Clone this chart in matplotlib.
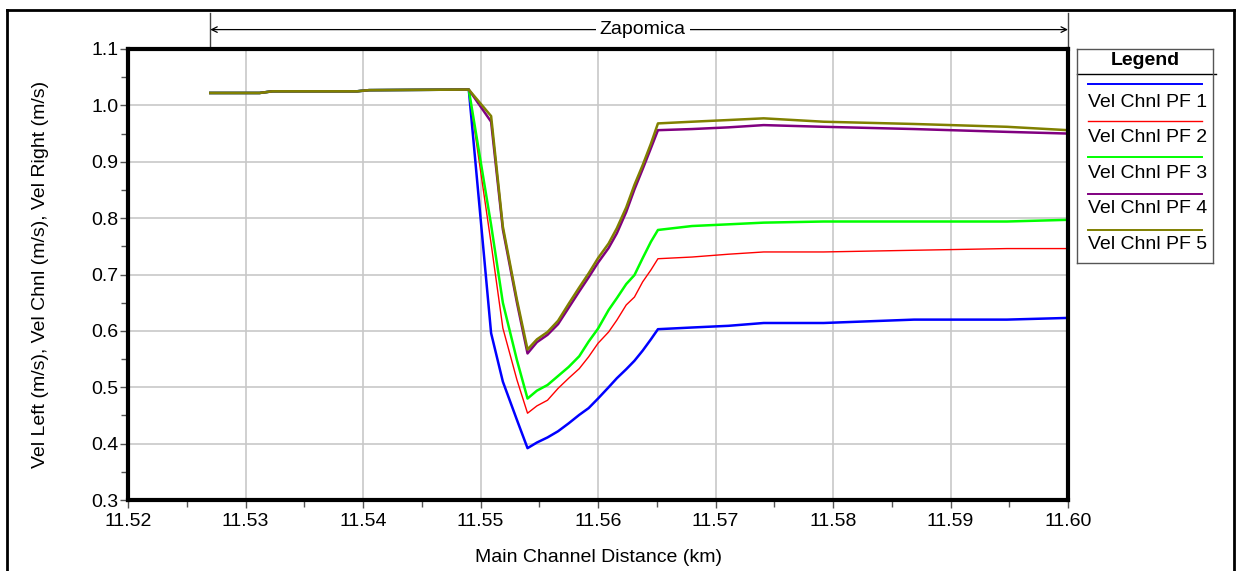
import numpy as np
import matplotlib
matplotlib.use('Agg')
import matplotlib.pyplot as plt
from matplotlib.lines import Line2D

plt.rcParams['font.family'] = ['Liberation Sans', 'DejaVu Sans']

# Main channel stations (km)
station = [11.5270, 11.5312, 11.5323, 11.5395, 11.5405, 11.5490,
           11.5509, 11.5519, 11.5531, 11.5540,
           11.5548, 11.5557, 11.5566, 11.5575, 11.5584, 11.5592, 11.5600,
           11.5609, 11.5616, 11.5624, 11.5631, 11.5638, 11.5645, 11.5651,
           11.5680, 11.5711, 11.5741, 11.5792, 11.5869, 11.5948, 11.6000]

upstream = [1.022, 1.022, 1.025, 1.025, 1.027, 1.028]

vel_pf1 = upstream + [0.596, 0.510, 0.442, 0.392,
                      0.402, 0.411, 0.422, 0.436, 0.451, 0.463, 0.480,
                      0.500, 0.516, 0.532, 0.547, 0.565, 0.585, 0.603,
                      0.606, 0.609, 0.614, 0.614, 0.620, 0.620, 0.623]
vel_pf2 = upstream + [0.755, 0.605, 0.513, 0.454,
                      0.467, 0.477, 0.498, 0.516, 0.533, 0.554, 0.578,
                      0.598, 0.619, 0.646, 0.660, 0.687, 0.708, 0.728,
                      0.731, 0.736, 0.740, 0.740, 0.743, 0.746, 0.746]
vel_pf3 = upstream + [0.788, 0.650, 0.548, 0.480,
                      0.494, 0.504, 0.520, 0.536, 0.555, 0.581, 0.604,
                      0.637, 0.658, 0.683, 0.699, 0.729, 0.758, 0.779,
                      0.786, 0.789, 0.792, 0.794, 0.794, 0.794, 0.797]
vel_pf4 = upstream + [0.971, 0.780, 0.650, 0.560,
                      0.580, 0.593, 0.612, 0.641, 0.670, 0.695, 0.721,
                      0.747, 0.773, 0.811, 0.851, 0.887, 0.924, 0.956,
                      0.958, 0.961, 0.965, 0.962, 0.958, 0.953, 0.950]
vel_pf5 = upstream + [0.981, 0.785, 0.655, 0.567,
                      0.585, 0.598, 0.618, 0.648, 0.677, 0.702, 0.729,
                      0.755, 0.782, 0.819, 0.859, 0.894, 0.932, 0.968,
                      0.971, 0.974, 0.977, 0.971, 0.967, 0.962, 0.956]

profiles = ['Vel Chnl PF 1', 'Vel Chnl PF 2', 'Vel Chnl PF 3',
            'Vel Chnl PF 4', 'Vel Chnl PF 5']
colors = ['#0000ff', '#ff0000', '#00ff00', '#800080', '#808000']
widths = [1.8, 1.0, 1.8, 1.8, 1.8]

reach_start, reach_end = 11.527, 11.600
reach_name = 'Zapomica'

FS = 14

fig = plt.figure(figsize=(12.42, 5.71), dpi=100)
ax = fig.add_axes([0.1031, 0.1243, 0.7568, 0.7899])

series = [vel_pf1, vel_pf2, vel_pf3, vel_pf4, vel_pf5]
for vals, lab, c, w in zip(series, profiles, colors, widths):
    ax.plot(station, vals, color=c, lw=w, label=lab, solid_joinstyle='round')

ax.set_xlim(11.52, 11.60)
ax.set_ylim(0.3, 1.1)
ax.set_xticks(np.arange(11.52, 11.6001, 0.01))
ax.set_xticks(np.arange(11.525, 11.6, 0.01), minor=True)
ax.set_yticks(np.arange(0.3, 1.1001, 0.1))
ax.set_yticks(np.arange(0.35, 1.1, 0.1), minor=True)
ax.xaxis.set_major_formatter(plt.FormatStrFormatter('%.2f'))
ax.yaxis.set_major_formatter(plt.FormatStrFormatter('%.1f'))
ax.tick_params(which='both', direction='out', labelsize=FS, color='#555555')
ax.tick_params(which='major', length=6, width=1)
ax.tick_params(which='minor', length=5, width=1)
ax.tick_params(axis='x', pad=3)
ax.tick_params(axis='y', pad=1)
ax.grid(True, which='major', color='#c8c8c8', lw=1.2)
ax.set_axisbelow(True)
for sp in ax.spines.values():
    sp.set_linewidth(3)
    sp.set_color('black')

ax.set_xlabel('Main Channel Distance (km)', fontsize=FS, labelpad=14)
ax.set_ylabel('Vel Left (m/s), Vel Chnl (m/s), Vel Right (m/s)', fontsize=FS,
              labelpad=30)

# Reach extent marker above the plot
trans = ax.get_xaxis_transform()
for xv in (reach_start, reach_end):
    ax.plot([xv, xv], [1.0, 1.08], transform=trans, color='#444444', lw=1,
            clip_on=False)
ax.annotate('', xy=(reach_start, 1.043), xytext=(reach_end, 1.043),
            xycoords=trans, textcoords=trans,
            arrowprops=dict(arrowstyle='<->', color='black', lw=0.9,
                            mutation_scale=10, shrinkA=0, shrinkB=0))
ax.text((reach_start + reach_end) / 2 + 0.0003, 1.043, reach_name,
        transform=trans, ha='center', va='center', fontsize=FS,
        bbox=dict(facecolor='white', edgecolor='none', pad=3))

# Legend panel
leg_ax = fig.add_axes([1077 / 1242, 1 - 263 / 571, 136 / 1242, 214 / 571])
leg_ax.set_xlim(0, 1)
leg_ax.set_ylim(0, 1)
leg_ax.set_xticks([])
leg_ax.set_yticks([])
for sp in leg_ax.spines.values():
    sp.set_linewidth(1)
    sp.set_color('#555555')
leg_ax.text(0.5, 0.945, 'Legend', ha='center', va='center', fontsize=FS,
            fontweight='bold')
leg_ax.add_line(Line2D([0, 1.02], [0.883, 0.883], color='black', lw=1,
                       clip_on=False))
for i, (lab, c, w) in enumerate(zip(profiles, colors, widths)):
    leg_ax.add_line(Line2D([0.08, 0.92], [0.836 - i * 0.171] * 2, color=c,
                           lw=min(w, 1.4)))
    leg_ax.text(0.52, 0.752 - i * 0.166, lab, ha='center', va='center',
                fontsize=FS)

# Outer frame
fig.add_artist(Line2D([7 / 1242, 7 / 1242], [0, 1 - 10 / 571],
                      transform=fig.transFigure, color='black', lw=2))
fig.add_artist(Line2D([7 / 1242, 1234 / 1242], [1 - 10 / 571, 1 - 10 / 571],
                      transform=fig.transFigure, color='black', lw=2))
fig.add_artist(Line2D([1234 / 1242, 1234 / 1242], [0, 1 - 10 / 571],
                      transform=fig.transFigure, color='black', lw=2))

fig.savefig('out.png', dpi=100)
